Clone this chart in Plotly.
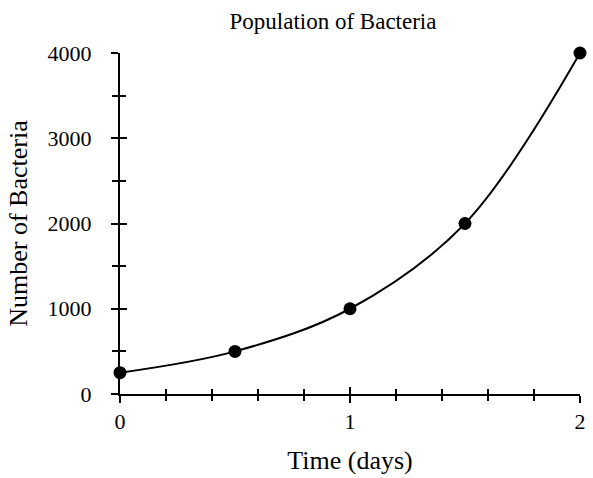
import plotly.graph_objects as go

# Data
time_days = [0, 0.5, 1, 1.5, 2]
bacteria = [250, 500, 1000, 2000, 4000]
x_tick_vals = [0, 1, 2]
x_tick_text = ["0", "1", "2"]
y_tick_vals = [0, 1000, 2000, 3000, 4000]
y_tick_text = ["0", "1000", "2000", "3000", "4000"]

FONT = "Liberation Serif, Times New Roman, serif"
W, H = 593, 478

fig = go.Figure()
fig.add_trace(go.Scatter(
    x=time_days, y=bacteria, mode="lines+markers",
    line=dict(color="black", width=2, shape="spline", smoothing=1.0),
    marker=dict(color="black", size=13),
    cliponaxis=False, showlegend=False,
))
# invisible trace to host the overlay axes (for crossing ticks)
fig.add_trace(go.Scatter(
    x=time_days, y=bacteria, xaxis="x2", yaxis="y2", mode="markers",
    marker=dict(opacity=0), hoverinfo="skip", showlegend=False,
))

common_x = dict(range=[0, 2], tickmode="array", tickvals=x_tick_vals,
                showgrid=False, zeroline=False, tickcolor="black", tickwidth=2)
common_y = dict(range=[0, 4000], tickmode="array", tickvals=y_tick_vals,
                showgrid=False, zeroline=False, tickcolor="black", tickwidth=2)

fig.update_layout(
    width=W, height=H,
    paper_bgcolor="white", plot_bgcolor="white",
    margin=dict(l=120, r=7, t=53, b=84),
    font=dict(family=FONT, color="black"),
    title=dict(text="Population of Bacteria", font=dict(family=FONT, size=23, color="black"),
               x=333 / W, xref="container", xanchor="center",
               y=1 - 13 / H, yref="container", yanchor="top"),
    xaxis=dict(**common_x, ticktext=x_tick_text, ticks="outside", ticklen=7,
               showline=True, linecolor="black", linewidth=2,
               tickfont=dict(family=FONT, size=22, color="black"),
               minor=dict(dtick=0.2, ticks="outside", ticklen=5, tickcolor="black", tickwidth=2),
               title=dict(text="Time (days)", font=dict(family=FONT, size=26, color="black"), standoff=17)),
    yaxis=dict(**common_y, ticktext=y_tick_text, ticks="outside", ticklen=7,
               showline=True, linecolor="black", linewidth=2,
               ticklabelstandoff=15,
               tickfont=dict(family=FONT, size=22, color="black"),
               minor=dict(dtick=500, ticks="outside", ticklen=6, tickcolor="black", tickwidth=2),
               title=dict(text="Number of Bacteria", font=dict(family=FONT, size=26, color="black"), standoff=12)),
    xaxis2=dict(**common_x, overlaying="x", matches="x", anchor="y", side="bottom",
                ticks="inside", ticklen=7, showticklabels=False, showline=False,
                minor=dict(dtick=0.2, ticks="inside", ticklen=5, tickcolor="black", tickwidth=2)),
    yaxis2=dict(**common_y, overlaying="y", matches="y", anchor="x", side="left",
                ticks="inside", ticklen=7, showticklabels=False, showline=False,
                minor=dict(dtick=500, ticks="inside", ticklen=6, tickcolor="black", tickwidth=2)),
)

fig.write_html("out.html", config={"displayModeBar": False},
               post_script="document.body.style.margin='0';")
